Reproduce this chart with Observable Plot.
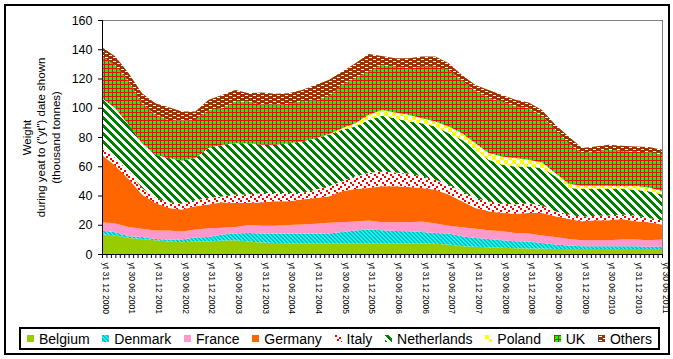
<!DOCTYPE html>
<html><head><meta charset="utf-8">
<script src="https://cdn.jsdelivr.net/npm/d3@7"></script>
<script src="https://cdn.jsdelivr.net/npm/@observablehq/plot@0.6"></script>
<style>
body{margin:0;background:#fff;font-family:"Liberation Sans",Arial,sans-serif;}
#wrap{position:relative;width:673px;height:359px;overflow:hidden;}
#chart{position:absolute;left:0;top:0;}
#frame{position:absolute;left:4px;top:4px;width:666px;height:351px;border:2px solid #000;box-sizing:border-box;pointer-events:none;}
#legend{position:absolute;left:19px;top:327px;width:641px;height:23px;border:2px solid #000;box-sizing:border-box;display:flex;align-items:center;justify-content:space-between;padding:0 6px 0 6px;font-size:14px;color:#000;}
.item{display:flex;align-items:center;white-space:nowrap;}
.item svg{margin-right:5px;}
</style></head><body>
<svg width="0" height="0" style="position:absolute">
<defs>
<pattern id="p-den" width="4" height="4" patternUnits="userSpaceOnUse" shape-rendering="crispEdges">
<rect width="4" height="4" fill="#00FFFF"/>
<g fill="#2AB4B4">
<rect x="0" y="0" width="2" height="1"/><rect x="1" y="1" width="2" height="1"/>
<rect x="2" y="2" width="2" height="1"/><rect x="3" y="3" width="1" height="1"/><rect x="0" y="3" width="1" height="1"/>
</g>
</pattern>
<pattern id="p-ita" width="8" height="8" patternUnits="userSpaceOnUse" shape-rendering="crispEdges">
<rect width="8" height="8" fill="#FFFFFF"/>
<g fill="#FF0000">
<rect x="0" y="0" width="2" height="2"/><rect x="4" y="2" width="2" height="2"/>
<rect x="2" y="4" width="2" height="2"/><rect x="6" y="6" width="2" height="2"/>
</g>
</pattern>
<pattern id="p-ned" width="8" height="8" patternUnits="userSpaceOnUse" shape-rendering="crispEdges">
<rect width="8" height="8" fill="#FFFFFF"/>
<g fill="#008000">
<rect x="0" y="0" width="4" height="1"/><rect x="1" y="1" width="4" height="1"/><rect x="2" y="2" width="4" height="1"/><rect x="3" y="3" width="4" height="1"/>
<rect x="4" y="4" width="4" height="1"/><rect x="5" y="5" width="3" height="1"/><rect x="0" y="5" width="1" height="1"/>
<rect x="6" y="6" width="2" height="1"/><rect x="0" y="6" width="2" height="1"/>
<rect x="7" y="7" width="1" height="1"/><rect x="0" y="7" width="3" height="1"/>
</g>
</pattern>
<pattern id="p-pol" width="8" height="8" patternUnits="userSpaceOnUse" shape-rendering="crispEdges">
<rect width="8" height="8" fill="#FFFFFF"/>
<rect x="0" y="0" width="4" height="4" fill="#FFFF00"/><rect x="4" y="4" width="4" height="4" fill="#FFFF00"/>
</pattern>
<pattern id="p-uk" width="4" height="4" patternUnits="userSpaceOnUse" shape-rendering="crispEdges">
<rect width="4" height="4" fill="#00FF00"/>
<rect x="0" y="0" width="4" height="1" fill="#FF0000"/><rect x="0" y="0" width="1" height="4" fill="#FF0000"/>
</pattern>
<pattern id="p-oth" width="8" height="4" patternUnits="userSpaceOnUse" shape-rendering="crispEdges">
<rect width="8" height="4" fill="#993300"/>
<rect x="1" y="1" width="3" height="1" fill="#FFFFFF"/><rect x="5" y="3" width="3" height="1" fill="#FFFFFF"/>
</pattern>
</defs>
</svg>
<div id="wrap"><div id="chart"></div><div id="legend"></div><div id="frame"></div></div>
<script>
// Month index from 31 Dec 2000 (0) to 30 Jun 2011 (126), read every 3 months
const monthIdx = [0,3,6,9,12,15,18,21,24,27,30,33,36,39,42,45,48,51,54,57,60,63,66,69,72,75,78,81,84,87,90,93,96,99,102,105,108,111,114,117,120,123,126];
const series = ["Belgium","Denmark","France","Germany","Italy","Netherlands","Poland","UK","Others"];
const belgium = [13.5,12.6,11,10.3,9.4,8.5,8,8.5,8.5,9.2,9.4,8.5,7.8,7.6,7.4, 7.4,7.4,7.4,7.4,7.4,7.4,7.4,7.4,7.2,7.2,7,6.5,5.3,4.9,4.7, 4.2,4,3.8,3.8,3.5,3.5,3.5,3.5,3.5,3.5,3.5,3.5,3.5];
const denmark = [2.5,2.3,1.2,1.4,0.9,1.4,1.9,2.8,3.2,4.1,4.6,5.9,6.2,6.4,6.6, 6.6,6.6,6.6,7.7,8.6,9.3,8.9,8.4,8.4,7.9,7.4,7.5,6.9,6.1,5.6, 5.2,4.8,4.8,3.8,3,2.3,1.8,1.8,1.8,1.8,1.8,1.4,1.4];
const france = [5.7,5.9,6.3,5.5,5.7,6.1,5.4,5.4,5.9,4.7,4.5,5.5,5.4,5.4,5.9, 6.1,6.6,7.3,6.6,6.2,6.2,5.4,5.9,6.1,7.1,6.4,5.4,6.1,6.2,6, 6.2,5.6,5.4,5,5.2,4.5,4.1,4.1,4.1,4.6,4.6,4.5,5];
const germany = [46.2,39.6,32.8,23.4,18.9,15.5,15.1,15.9,16.2,17.4,16.4,15,16,16.6,16.1, 17.1,17.7,18.1,21.2,22.3,22.2,24.6,24.6,24.1,22.9,23.2,21.2,17.7,14.3,12.9, 12.5,13.2,14,15.5,14.1,13.7,13,13.7,13.7,14.1,12.5,12.3,10.2];
const italy = [5.2,5.2,5.2,4.5,3.4,3.9,4.1,4.1,4.5,4,5.7,5.7,6.3,5.7,5.7, 4.5,5.7,6.9,6.8,8.6,10.3,10.2,9.5,9.1,8,6.8,6.8,6.9,6.8,6.8, 6.3,6.2,6.9,5,3.4,3,3,3,3.2,3,3.9,3,3];
const netherlands = [33.4,34.1,31.8,30.7,29.6,30.2,29.5,28.9,34.1,35.3,35.2,35.2,33,33,34.1, 35.2,35.2,35.2,35.2,34.1,36.3,38,37.1,35.7,36.3,36.4,35.2,35.2,33,28.5, 26.6,26.1,25,25.7,23.9,18.1,19.1,18.4,18.2,17.5,17.7,18.2,17.5];
const poland = [0,0,0,0,0,0,0,0,0,0,0,0,0,0,0, 0,0,0.3,1,2.2,3.5,4,3.9,4.6,3.5,3.4,4.6,4.5,4.5,4.5, 5.7,5.7,4.6,3.8,2.3,2.9,2.2,2.2,2.2,1.8,2.5,2.5,2.5];
const uk = [28.5,29.3,29.7,27.2,27.3,26.1,27.3,26.1,26.1,25,28.4,28.4,27.3,27.3,26.9, 27.3,25.7,25.9,29.7,30.8,29.5,30.8,31.3,31.8,35.2,37.5,38.7,35.8,35.8,37.5, 37.5,35.2,35.2,31.9,29.5,27.8,22.2,23.3,24.5,24.2,23.5,24.2,24.7];
const others = [6.3,6,5.6,7,7.8,8.7,6.1,5.7,6.9,9.1,8,5.8,8.4,7.5,7.3, 8,10.7,11.3,9.1,10.2,12.1,6.1,5.7,6.8,6.9,6.9,4.5,4,4,5.7, 4.6,4.6,3.9,4,3.4,4.6,3.5,3.5,3.5,3.5,3.5,3.5,3.5];
const values = [belgium, denmark, france, germany, italy, netherlands, poland, uk, others];
const fills = ["#99CC00","url(#p-den)","#FF99CC","#FF6600","url(#p-ita)","url(#p-ned)","url(#p-pol)","url(#p-uk)","url(#p-oth)"];
const yTicks = [0,20,40,60,80,100,120,140,160];
const tickLabels = ["yt 31 12 2000","yt 30 06 2001","yt 31 12 2001","yt 30 06 2002","yt 31 12 2002","yt 30 06 2003","yt 31 12 2003","yt 30 06 2004","yt 31 12 2004","yt 30 06 2005","yt 31 12 2005","yt 30 06 2006","yt 31 12 2006","yt 30 06 2007","yt 31 12 2007","yt 30 06 2008","yt 31 12 2008","yt 30 06 2009","yt 31 12 2009","yt 30 06 2010","yt 31 12 2010","yt 30 06 2011"];
const yTitle = "Weight\nduring yeat to (\"yt\") date shown\n(thousand tonnes)";

const rows = [];
series.forEach((s, si) => monthIdx.forEach((m, i) => rows.push({m, series: s, value: values[si][i]})));
const monthTicks = d3.range(0, 127);
const labelTicks = tickLabels.map((_, i) => i * 6);

const chart = Plot.plot({
  width: 673, height: 320,
  marginLeft: 102, marginRight: 11, marginTop: 20, marginBottom: 66,
  style: {fontFamily: '"Liberation Sans", Arial, sans-serif', color: "#000", background: "transparent", overflow: "visible"},
  x: {domain: [0, 126], axis: null},
  y: {domain: [0, 160], axis: null},
  color: {domain: series, range: fills},
  marks: [
    Plot.areaY(rows, {x: "m", y: "value", z: "series", fill: "series", order: series}),
    Plot.ruleY([160], {stroke: "#808080"}),
    Plot.ruleX([126], {stroke: "#808080"}),
    Plot.ruleX([0], {stroke: "#000"}),
    Plot.ruleY([0], {stroke: "#000"}),
    Plot.axisY(yTicks, {tickSize: 4, tickPadding: 6, fontSize: 12.5, label: null}),
    Plot.axisX(monthTicks, {tickSize: 4, tickFormat: () => "", label: null}),
    Plot.axisX(labelTicks, {tickSize: 0, tickRotate: 90, tickPadding: 8, fontSize: 8.5, dx: 3, tickFormat: i => tickLabels[i / 6], label: null}),
    Plot.text([yTitle], {text: d => d, frameAnchor: "left", textAnchor: "middle", lineAnchor: "middle", dx: -62, rotate: -90, lineHeight: 1.26, fontSize: 11.5})
  ]
});
document.getElementById("chart").appendChild(chart);

const legend = document.getElementById("legend");
series.forEach((s, i) => {
  const item = document.createElement("div");
  item.className = "item";
  item.innerHTML = `<svg width="7" height="7"><rect width="7" height="7" fill="${fills[i]}"/></svg><span>${s}</span>`;
  legend.appendChild(item);
});
</script>
</body></html>
